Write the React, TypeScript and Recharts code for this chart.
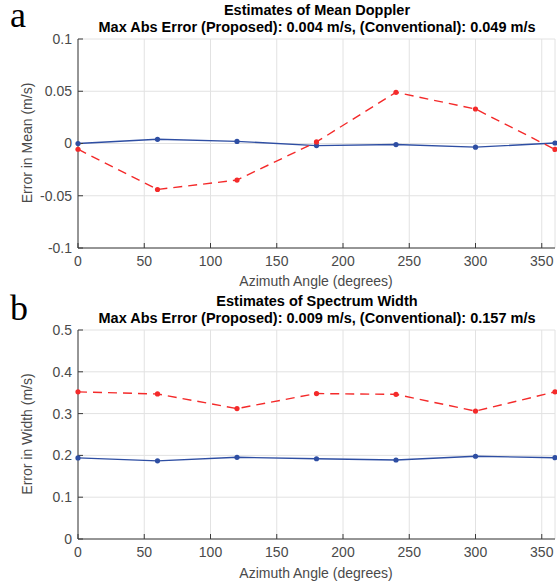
import React from 'react';
import { LineChart, Line, XAxis, YAxis, CartesianGrid } from 'recharts';

const angles = [0, 60, 120, 180, 240, 300, 360];
const meanProposed = [0, 0.004, 0.002, -0.002, -0.001, -0.0035, 0.0005];
const meanConventional = [-0.0055, -0.044, -0.035, 0.0015, 0.049, 0.033, -0.0057];
const widthProposed = [0.194, 0.187, 0.1955, 0.192, 0.189, 0.198, 0.1945];
const widthConventional = [0.352, 0.347, 0.312, 0.348, 0.346, 0.306, 0.352];

const xTicks = [0, 50, 100, 150, 200, 250, 300, 350];
const meanTicks = [-0.1, -0.05, 0, 0.05, 0.1];
const widthTicks = [0, 0.1, 0.2, 0.3, 0.4, 0.5];

const titlesA = ['Estimates of Mean Doppler', 'Max Abs Error (Proposed): 0.004 m/s, (Conventional): 0.049 m/s'];
const titlesB = ['Estimates of Spectrum Width', 'Max Abs Error (Proposed): 0.009 m/s, (Conventional): 0.157 m/s'];
const xLabel = 'Azimuth Angle (degrees)';
const yLabelA = 'Error in Mean (m/s)';
const yLabelB = 'Error in Width (m/s)';

const meanData = angles.map((a, i) => ({ angle: a, proposed: meanProposed[i], conventional: meanConventional[i] }));
const widthData = angles.map((a, i) => ({ angle: a, proposed: widthProposed[i], conventional: widthConventional[i] }));

const FONT = '"Liberation Sans", Arial, Helvetica, sans-serif';
const TXT = '#4a4a4a';
const AX = '#3a3a3a';
const BLUE = '#2e4ea3';
const RED = '#f42a2a';

type PanelProps = {
  data: any[];
  top: number;
  marginTop: number;
  xAxisHeight: number;
  domain: [number, number];
  ticks: number[];
};

function Panel({ data, top, marginTop, xAxisHeight, domain, ticks }: PanelProps) {
  const tickStyle = { fill: TXT, fontSize: 14, fontFamily: FONT };
  return (
    <div style={{ position: 'absolute', left: 0, top }}>
      <LineChart width={557} height={292} data={data} margin={{ top: marginTop, right: 2, bottom: 0, left: 0 }}>
        <CartesianGrid stroke="#e2e2e2" strokeWidth={1} xAxisId="b" yAxisId="l" />
        <XAxis
          xAxisId="b"
          dataKey="angle"
          type="number"
          domain={[0, 360]}
          ticks={xTicks}
          height={xAxisHeight}
          stroke={AX}
          tickSize={-5}
          tickMargin={13}
          tick={tickStyle}
          interval={0}
        />
        <XAxis
          xAxisId="t"
          orientation="top"
          dataKey="angle"
          type="number"
          domain={[0, 360]}
          ticks={xTicks}
          height={0}
          stroke={AX}
          tickSize={-5}
          tick={false}
        />
        <YAxis
          yAxisId="l"
          type="number"
          domain={domain}
          ticks={ticks}
          width={78}
          stroke={AX}
          tickSize={-5}
          tickMargin={11}
          tick={tickStyle}
          interval={0}
          tickFormatter={(v: number) => String(v)}
        />
        <YAxis
          yAxisId="r"
          orientation="right"
          type="number"
          domain={domain}
          ticks={ticks}
          width={0}
          stroke={AX}
          tickSize={-5}
          tick={false}
        />
        <Line
          xAxisId="b"
          yAxisId="l"
          type="linear"
          dataKey="proposed"
          stroke={BLUE}
          strokeWidth={1.4}
          dot={{ r: 2.6, fill: BLUE, stroke: 'none' }}
          isAnimationActive={false}
        />
        <Line
          xAxisId="b"
          yAxisId="l"
          type="linear"
          dataKey="conventional"
          stroke={RED}
          strokeWidth={1.4}
          strokeDasharray="9 6"
          dot={{ r: 2.6, fill: RED, stroke: 'none' }}
          isAnimationActive={false}
        />
      </LineChart>
    </div>
  );
}

export default function App() {
  return (
    <div style={{ position: 'absolute', left: 0, top: 0, width: 557, height: 584, background: '#fff', overflow: 'hidden' }}>
      <Panel data={meanData} top={0} marginTop={39} xAxisHeight={44} domain={[-0.1, 0.1]} ticks={meanTicks} />
      <Panel data={widthData} top={292} marginTop={38} xAxisHeight={45} domain={[0, 0.5]} ticks={widthTicks} />
      <svg width={557} height={584} style={{ position: 'absolute', left: 0, top: 0, pointerEvents: 'none' }}>
        <text x={10} y={27} fontFamily='"Liberation Serif", "Times New Roman", serif' fontSize={36} fill="#000">a</text>
        <text x={10} y={320} fontFamily='"Liberation Serif", "Times New Roman", serif' fontSize={36} fill="#000">b</text>
        <g fontFamily={FONT} fontSize={14.5} fontWeight="bold" fill="#000" textAnchor="middle">
          <text x={317} y={15}>{titlesA[0]}</text>
          <text x={317} y={32}>{titlesA[1]}</text>
          <text x={317} y={306}>{titlesB[0]}</text>
          <text x={317} y={323}>{titlesB[1]}</text>
        </g>
        <g fontFamily={FONT} fontSize={14} fill={TXT} textAnchor="middle">
          <text x={316} y={286}>{xLabel}</text>
          <text x={316} y={578}>{xLabel}</text>
          <text transform="translate(32,143) rotate(-90)">{yLabelA}</text>
          <text transform="translate(32,434) rotate(-90)">{yLabelB}</text>
        </g>
      </svg>
    </div>
  );
}
